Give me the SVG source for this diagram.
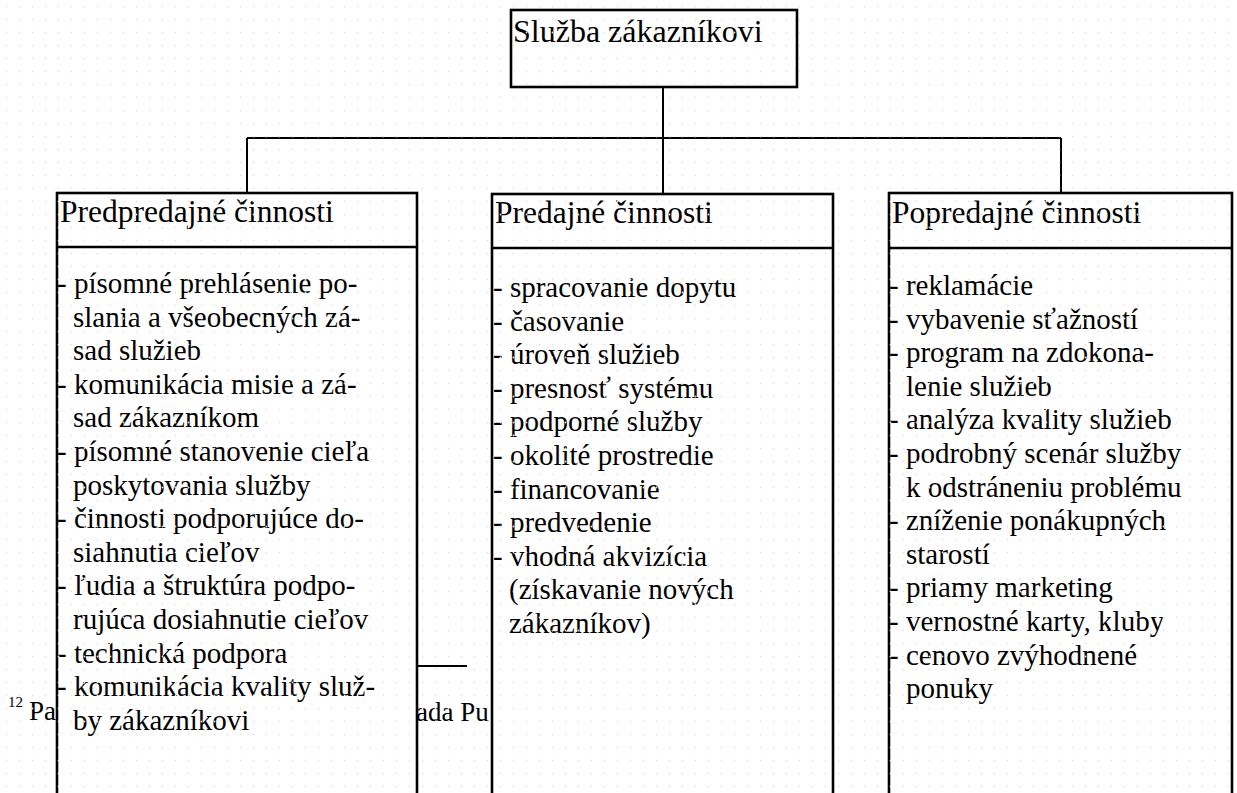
<svg xmlns="http://www.w3.org/2000/svg" width="1237" height="793" viewBox="0 0 1237 793" font-family="'Liberation Serif', 'Times New Roman', Times, serif">
<defs>
<style>
.box{fill:#fff;stroke:#000;stroke-width:2.6}
.div{stroke:#000;stroke-width:2.6;fill:none}
.conn{stroke:#000;stroke-width:2;fill:none}
.h{font-size:31.5px}
.t{font-size:32px}
.b{font-size:29px}
.fn{font-size:27px}
.sup{font-size:15px}
</style>
<pattern id="dots" width="13" height="13" patternUnits="userSpaceOnUse">
<circle cx="6.5" cy="6.5" r="0.9" fill="#e4e4e4"/>
</pattern>
</defs>
<rect width="1237" height="793" fill="#fff"/>

<g id="footnote" font-family="Liberation Serif">
<text class="sup" x="8" y="707">12</text>
<text class="fn" x="29" y="720">Pa</text>
<text class="fn" x="416" y="721">ada Pu</text>
<line x1="417" y1="666" x2="467" y2="666" class="conn"/>
</g>

<g id="connectors">
<line class="conn" x1="663" y1="87" x2="663" y2="138"/>
<line class="conn" x1="247" y1="138" x2="1061" y2="138"/>
<line class="conn" x1="247" y1="138" x2="247" y2="193"/>
<line class="conn" x1="663" y1="138" x2="663" y2="194"/>
<line class="conn" x1="1061" y1="138" x2="1061" y2="194"/>
</g>

<g id="root" font-family="Liberation Serif">
<rect class="box" x="511" y="10" width="286" height="77"/>
<text class="t" x="513" y="42">Služba zákazníkovi</text>
</g>

<g id="presale" font-family="Liberation Serif">
<rect class="box" x="57" y="193" width="360" height="640"/>
<line class="div" x1="57" y1="247" x2="417" y2="247"/>
<text class="h" x="60" y="222">Predpredajné činnosti</text>
<g class="b">
<text x="57" y="293">- písomné prehlásenie po-</text>
<text x="73" y="326.6">slania a všeobecných zá-</text>
<text x="73" y="360.2">sad služieb</text>
<text x="57" y="393.8">- komunikácia misie a zá-</text>
<text x="73" y="427.4">sad zákazníkom</text>
<text x="57" y="461">- písomné stanovenie cieľa</text>
<text x="73" y="494.6">poskytovania služby</text>
<text x="57" y="528.2">- činnosti podporujúce do-</text>
<text x="73" y="561.8">siahnutia cieľov</text>
<text x="57" y="595.4">- ľudia a štruktúra podpo-</text>
<text x="73" y="629">rujúca dosiahnutie cieľov</text>
<text x="57" y="662.6">- technická podpora</text>
<text x="57" y="696.2">- komunikácia kvality služ-</text>
<text x="73" y="729.8">by zákazníkovi</text>
</g>
</g>

<g id="sale" font-family="Liberation Serif">
<rect class="box" x="492" y="194" width="341" height="640"/>
<line class="div" x1="492" y1="248" x2="833" y2="248"/>
<text class="h" x="495" y="223">Predajné činnosti</text>
<g class="b">
<text x="493" y="297">- spracovanie dopytu</text>
<text x="493" y="330.6">- časovanie</text>
<text x="493" y="364.2">- úroveň služieb</text>
<text x="493" y="397.8">- presnosť systému</text>
<text x="493" y="431.4">- podporné služby</text>
<text x="493" y="465">- okolité prostredie</text>
<text x="493" y="498.6">- financovanie</text>
<text x="493" y="532.2">- predvedenie</text>
<text x="493" y="565.8">- vhodná akvizícia</text>
<text x="509" y="599.4">(získavanie nových</text>
<text x="509" y="633">zákazníkov)</text>
</g>
</g>

<g id="postsale" font-family="Liberation Serif">
<rect class="box" x="889" y="193" width="343" height="640"/>
<line class="div" x1="889" y1="248" x2="1232" y2="248"/>
<text class="h" x="892" y="223">Popredajné činnosti</text>
<g class="b">
<text x="889" y="295">- reklamácie</text>
<text x="889" y="328.6">- vybavenie sťažností</text>
<text x="889" y="362.2">- program na zdokona-</text>
<text x="906" y="395.8">lenie služieb</text>
<text x="889" y="429.4">- analýza kvality služieb</text>
<text x="889" y="463">- podrobný scenár služby</text>
<text x="906" y="496.6">k odstráneniu problému</text>
<text x="889" y="530.2">- zníženie ponákupných</text>
<text x="906" y="563.8">starostí</text>
<text x="889" y="597.4">- priamy marketing</text>
<text x="889" y="631">- vernostné karty, kluby</text>
<text x="889" y="664.6">- cenovo zvýhodnené</text>
<text x="906" y="698.2">ponuky</text>
</g>
</g>

<rect width="1237" height="793" fill="url(#dots)" pointer-events="none"/>
</svg>
